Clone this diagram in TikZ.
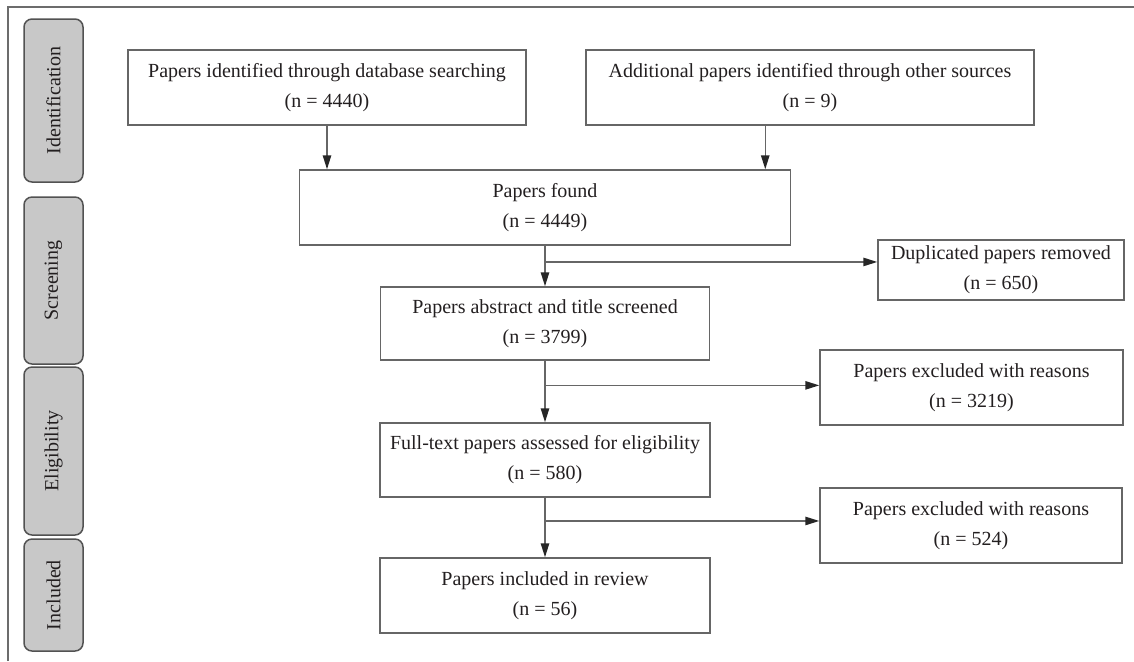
\documentclass[tikz,border=0pt]{standalone}
\usepackage{fontspec}
\setmainfont{Liberation Serif}
\usetikzlibrary{arrows.meta,calc}
\definecolor{lineg}{HTML}{666666}
\definecolor{txt}{HTML}{231F20}
\definecolor{sidefill}{HTML}{C8C8C8}
\tikzset{
  box/.style={draw=lineg, line width=0.75pt, fill=white, align=center, text=txt,
    font=\fontsize{10}{15}\selectfont, inner sep=0pt},
  side/.style={draw=lineg!80!black, line width=0.75pt, fill=sidefill, rounded corners=4pt,
    rotate=90, text=txt, font=\fontsize{10}{12}\selectfont, inner sep=0pt},
  conn/.style={draw=lineg, line width=0.75pt},
  arr/.style={conn, -{Triangle[length=7pt,width=4.2pt,color=black!85]}},
  frame/.style={draw=gray!85!black, line width=0.9pt}
}
\begin{document}
\begin{tikzpicture}[x=0.5pt,y=-0.5pt]
\useasboundingbox (0,0) rectangle (1134,661);
% outer frame
\coordinate (ftl) at (8,7);
\coordinate (ftr) at (1134,7);
\coordinate (fbl) at (8,661);
\draw[frame] (fbl) -- (ftl) -- (ftr);
% side labels
\node[side, minimum width=81.5pt, minimum height=29.5pt] (sid) at (53.5,100.5) {Identification};
\node[side, minimum width=83.5pt, minimum height=29.5pt] (sscr) at (53.5,280.5) {Screening};
\node[side, minimum width=84pt, minimum height=29.5pt] (selig) at (53.5,451) {Eligibility};
\node[side, minimum width=56pt, minimum height=29.5pt] (sinc) at (53.5,595) {Included};
% boxes
\node[box, minimum width=199pt, minimum height=37.5pt] (b1) at (327,87.5) {Papers identified through database searching\\(n = 4440)};
\node[box, minimum width=224pt, minimum height=37.5pt] (b2) at (810,87.5) {Additional papers identified through other sources\\(n = 9)};
\node[box, minimum width=245.5pt, minimum height=37.5pt] (pf) at (545,207.5) {Papers found\\(n = 4449)};
\node[box, minimum width=123pt, minimum height=30pt] (dup) at (1001,270) {Duplicated papers removed\\(n = 650)};
\node[box, minimum width=164.5pt, minimum height=36.5pt] (sc) at (545,323.5) {Papers abstract and title screened\\(n = 3799)};
\node[box, minimum width=151.5pt, minimum height=37.5pt] (ex1) at (971.5,387.5) {Papers excluded with reasons\\(n = 3219)};
\node[box, minimum width=165pt, minimum height=37pt] (ft) at (545,460) {Full-text papers assessed for eligibility\\(n = 580)};
\node[box, minimum width=151pt, minimum height=37.5pt] (ex2) at (971,525.5) {Papers excluded with reasons\\(n = 524)};
\node[box, minimum width=165pt, minimum height=37.5pt] (inc) at (545,595.5) {Papers included in review\\(n = 56)};
% connectors
\draw[arr] (b1.south) -- (b1.south |- pf.north);
\coordinate (b2out) at ([xshift=-13pt]pf.north east |- b2.south);
\draw[arr] (b2out) -- (b2out |- pf.north);
\draw[arr] (pf.south) -- (sc.north);
\coordinate (j1) at ($(pf.south)!0.4!(sc.north)$);
\draw[arr] (j1) -- (j1 -| dup.west);
\draw[arr] (sc.south) -- (ft.north);
\coordinate (j2) at ($(sc.south)!0.4!(ft.north)$);
\draw[arr] (j2) -- (j2 -| ex1.west);
\draw[arr] (ft.south) -- (inc.north);
\coordinate (j3) at ($(ft.south)!0.39!(inc.north)$);
\draw[arr] (j3) -- (j3 -| ex2.west);
\end{tikzpicture}
\end{document}
